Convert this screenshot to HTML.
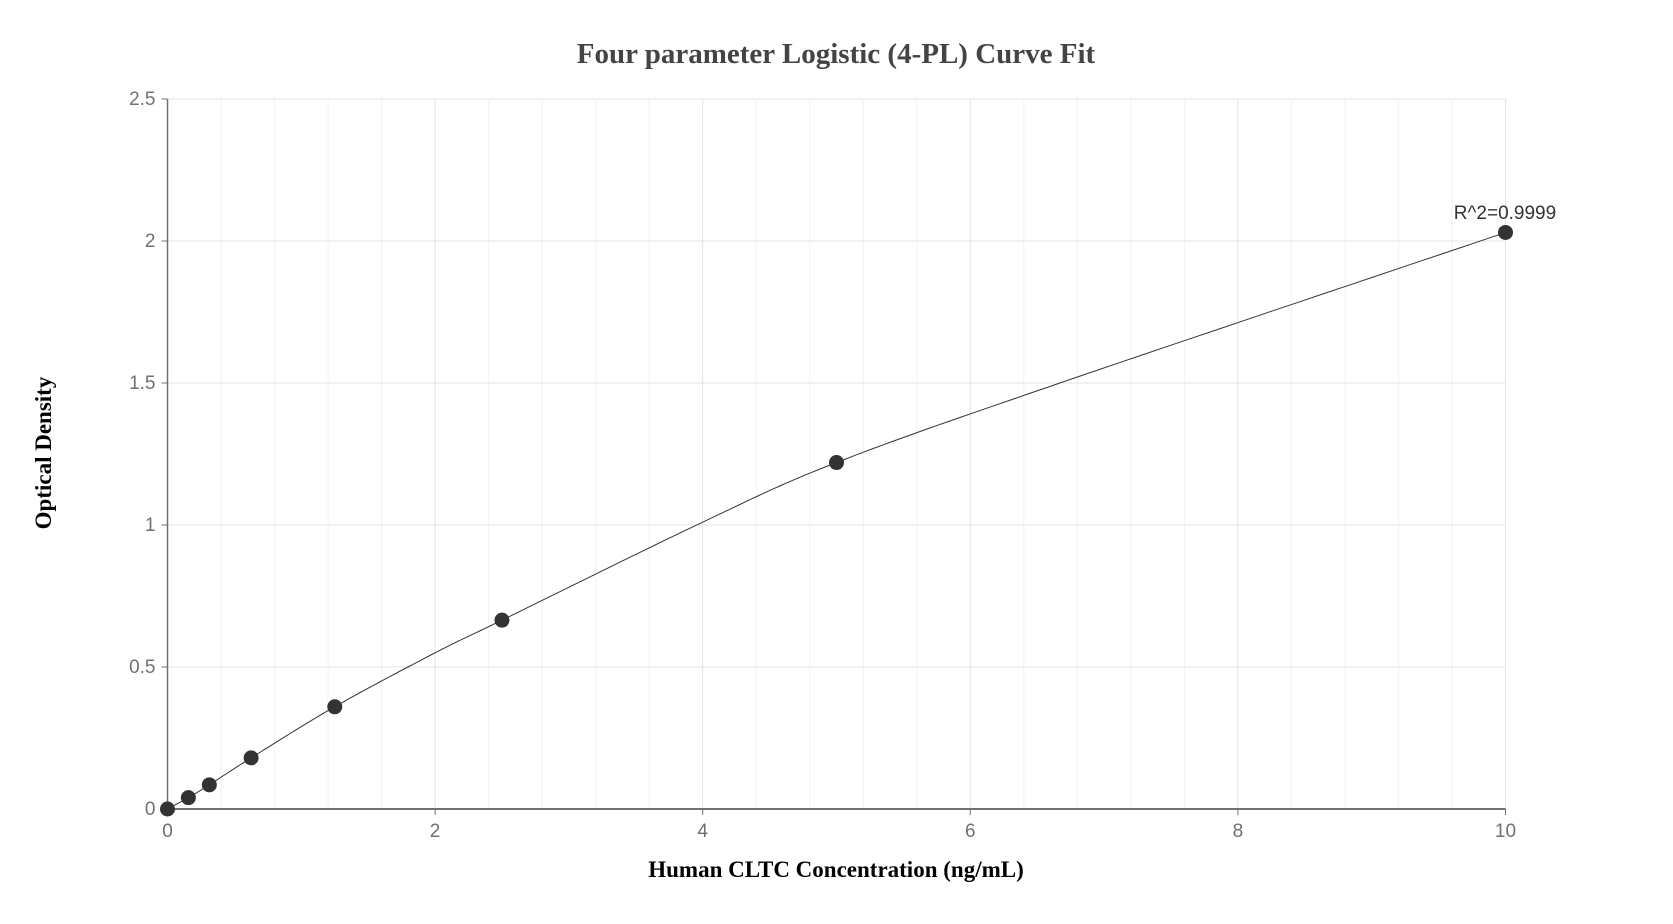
<!DOCTYPE html>
<html><head><meta charset="utf-8"><style>
html,body{margin:0;padding:0;background:#fff;}
svg{display:block;}
</style></head><body>
<svg id="s" width="1673" height="924" xmlns="http://www.w3.org/2000/svg">
<text x="836" y="63" text-anchor="middle" font-family="Liberation Serif, serif" font-weight="bold" font-size="29" fill="#444">Four parameter Logistic (4-PL) Curve Fit</text>
<g id="grid"></g>
<text x="836" y="877" text-anchor="middle" font-family="Liberation Serif, serif" font-weight="bold" font-size="23" fill="#000">Human CLTC Concentration (ng/mL)</text>
<text transform="translate(51,453) rotate(-90)" text-anchor="middle" font-family="Liberation Serif, serif" font-weight="bold" font-size="23" fill="#000">Optical Density</text>
<text x="1505" y="219" text-anchor="middle" font-family="Liberation Sans, sans-serif" font-size="19" fill="#333">R^2=0.9999</text>
</svg>
<script>
var X0=167.5,X1=1505.5,Y0=809,YT=99;
function sx(v){return X0+(X1-X0)*v/10;}
function sy(v){return Y0-(Y0-YT)*v/2.5;}
var g=document.getElementById('grid'),h='';
for(var i=1;i<=25;i++){var x=sx(i*0.4);h+='<line x1="'+x+'" y1="'+YT+'" x2="'+x+'" y2="'+Y0+'" stroke="'+(i%5==0?'#e0e3ee':'#f1f2f8')+'" stroke-width="1"/>';}
for(var j=1;j<=5;j++){var y=sy(j*0.5);h+='<line x1="'+X0+'" y1="'+y+'" x2="'+X1+'" y2="'+y+'" stroke="#e0e3ee"/>';
h+='<line x1="'+(X0-6)+'" y1="'+y+'" x2="'+X0+'" y2="'+y+'" stroke="#6e7079"/>';}
h+='<line x1="'+X0+'" y1="'+YT+'" x2="'+X0+'" y2="'+Y0+'" stroke="#6e7079" stroke-width="1.5"/>';
h+='<line x1="'+X0+'" y1="'+Y0+'" x2="'+X1+'" y2="'+Y0+'" stroke="#6e7079" stroke-width="2"/>';
for(var k=0;k<=5;k++){var x=sx(k*2);h+='<line x1="'+x+'" y1="'+Y0+'" x2="'+x+'" y2="'+(Y0+6)+'" stroke="#6e7079"/>';
h+='<text x="'+x+'" y="'+(Y0+28)+'" text-anchor="middle" font-family="Liberation Sans, sans-serif" font-size="19" fill="#6e7079">'+(k*2)+'</text>';}
var yl=['0','0.5','1','1.5','2','2.5'];
for(var j=0;j<=5;j++){h+='<text x="'+(X0-12)+'" y="'+(sy(j*0.5)+6)+'" text-anchor="end" font-family="Liberation Sans, sans-serif" font-size="19" fill="#6e7079">'+yl[j]+'</text>';}
var cx=[0,0.156,0.3125,0.625,1.25,2,2.5,4,5,6.67,10],cy=[0,0.04,0.085,0.18,0.36,0.55,0.665,1.01,1.22,1.5,2.03];
var pts=[];
for(var i=0;i<cx.length-1;i++){var p0=i>0?i-1:i,p3=i+2<cx.length?i+2:i+1;
 for(var t=0;t<1;t+=0.05){
  function cr(a){var P0=a[p0],P1=a[i],P2=a[i+1],P3=a[p3];
   var m1=(P2-P0)/2,m2=(P3-P1)/2,t2=t*t,t3=t2*t;
   return (2*t3-3*t2+1)*P1+(t3-2*t2+t)*m1+(-2*t3+3*t2)*P2+(t3-t2)*m2;}
  pts.push(sx(cr(cx)).toFixed(1)+','+sy(cr(cy)).toFixed(1));}}
pts.push(sx(10)+','+sy(2.03));
h+='<polyline points="'+pts.join(' ')+'" fill="none" stroke="#333" stroke-width="1"/>';
var dx=[0,0.156,0.3125,0.625,1.25,2.5,5,10],dy=[0,0.04,0.085,0.18,0.36,0.665,1.22,2.03];
for(var i=0;i<dx.length;i++)h+='<circle cx="'+sx(dx[i])+'" cy="'+sy(dy[i])+'" r="7.5" fill="#333"/>';
g.innerHTML=h;
</script>
</body></html>
